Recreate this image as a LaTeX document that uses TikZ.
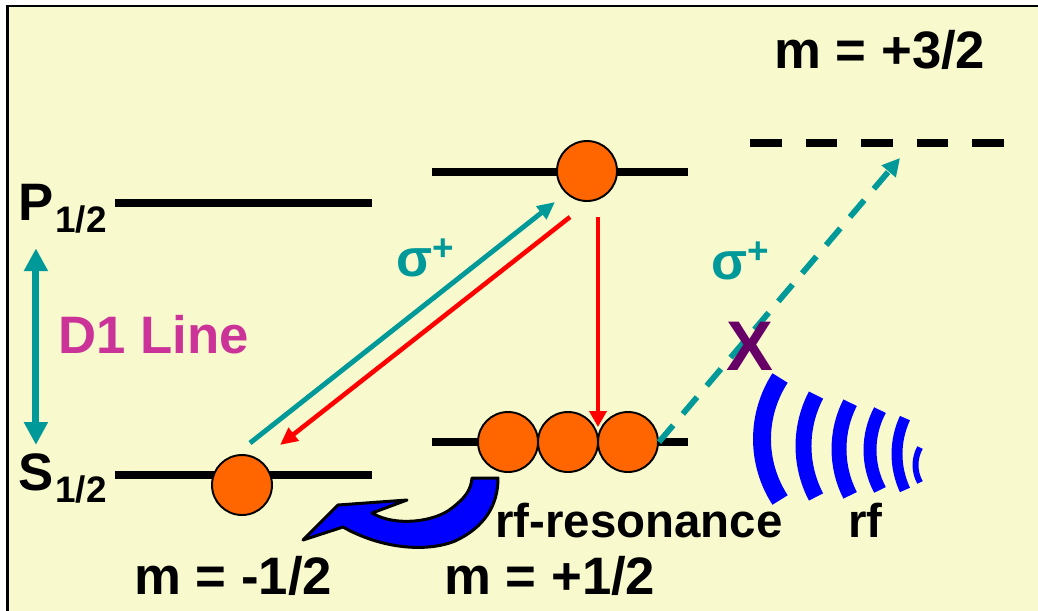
\documentclass[tikz,border=0pt]{standalone}
\usepackage{fontspec}
\setmainfont{Liberation Sans}
\usetikzlibrary{arrows.meta,calc}
\definecolor{paper}{RGB}{248,250,206}
\definecolor{pump}{RGB}{0,153,153}
\definecolor{decay}{RGB}{255,0,0}
\definecolor{atom}{RGB}{255,102,0}
\definecolor{dline}{RGB}{204,51,153}
\definecolor{blocked}{RGB}{102,0,102}
\definecolor{rfblue}{RGB}{0,0,255}

\begin{document}
\begin{tikzpicture}[x=0.02cm,y=-0.02cm,
    level/.style={line width=4.5pt},
    atomdot/.style={circle,draw,line width=1.1pt,fill=atom,minimum size=1.2cm,inner sep=0pt},
    big/.style={inner sep=0pt,anchor=base west,font=\fontsize{30}{36}\selectfont\bfseries},
    mid/.style={inner sep=0pt,anchor=base west,font=\fontsize{27}{32}\selectfont\bfseries},
    sub/.style={inner sep=0pt,anchor=base west,font=\fontsize{21}{25}\selectfont\bfseries},
    pumparrow/.style={pump,line width=2.8pt,-{Triangle[length=10pt,width=9pt]}},
    decayarrow/.style={decay,line width=2.6pt,-{Triangle[length=10pt,width=9pt]}}]

    % Frame
    \path[use as bounding box] (0,0) rectangle (1038,610);
    \clip (0,0) rectangle (1038,610);
    \draw[line width=1.5pt,fill=paper] (7.5,6) rectangle (1060,630);

    % Levels
    \draw[level] (115,203) -- (372,203);
    \draw[level] (115,475) -- (372,475);
    \draw[level] (432,172) -- (688,172);
    \draw[level] (432,442) -- (688,442);
    \draw[level,dash pattern=on 18pt off 13.6pt] (750,143) -- (1005,143);

    % Term labels
    \node[big] (Pn) at (18,220) {P};
    \node[sub] (Psub) at (55,232) {1/2};
    \node[big] (Sn) at (18,490) {S};
    \node[sub] (Ssub) at (55,502) {1/2};
    \node[big,dline] (d1) at (58,353) {D1 Line};
    \draw[pump,line width=4pt,{Triangle[length=13pt,width=13pt]}-{Triangle[length=13pt,width=13pt]},
        shorten <=0.56cm,shorten >=0.16cm] (Pn.south) -- (Sn.north);

    % rf-resonance arrow
    \draw[fill=rfblue,line width=1.7pt,line join=round]
        (472,478) -- (498,478) .. controls (498,505) and (485,527) .. (455,541)
        .. controls (425,553) and (380,548) .. (343,527) -- (303,540) -- (338,505)
        -- (407,500) -- (372,513) .. controls (395,527) and (435,522) .. (452,508)
        .. controls (465,498) and (471,490) .. (472,478) -- cycle;

    % Atoms
    \node[atomdot] (b1) at (587,171) {};
    \node[atomdot] (c1) at (508,442) {};
    \node[atomdot] (c2) at (568,442) {};
    \node[atomdot] (c3) at (628,442) {};
    \node[atomdot] (a1) at (242,485) {};

    % Transitions
    \draw[pumparrow] ([shift={(8,-42)}]a1.center) -- ([shift={(-32,31)}]b1.center);
    \draw[decayarrow] ([shift={(-17,46)}]b1.center) -- ([shift={(38,-40)}]a1.center);
    \draw[decay,line width=2.8pt,-{Triangle[length=9pt,width=9.5pt]}]
        ([shift={(11,46)}]b1.center) -- ([shift={(30,-15)}]c2.center);
    \coordinate (t3) at (900,158);
    \draw[pump,line width=3.3pt,dash pattern=on 12.5pt off 8.5pt,-{Triangle[length=10pt,width=10pt]}]
        (c3.east) -- (t3);
    \node[big,pump] (s1) at (396,276) {σ\textsuperscript{+}};
    \node[big,pump] (s2) at (711,279) {σ\textsuperscript{+}};
    \node[inner sep=0pt,anchor=base west,font=\fontsize{40}{48}\selectfont\bfseries,blocked] (xx) at (726,370) {X};

    % rf waves
    \foreach \cx/\cy/\r/\t/\w in {874/439/112/33/18, 913.5/446/110/27.6/16, 941/449/102/27/15,
        955/450/85/28/13, 982/454/85/25/11, 951.5/465/36/29/6}
        \draw[rfblue,line width=\w*0.567pt] (\cx,\cy) ++(180-\t:\r) arc[start angle=180-\t,end angle=180+\t,radius=\r];

    % m labels
    \node[big] (mlo) at (134,594) {m = -1/2};
    \node[big] (mhi) at (444,594) {m = +1/2};
    \node[big] (mtop) at (774,68) {m = +3/2};
    \node[mid] (rfres) at (495,537) {rf-resonance};
    \node[mid] (rf) at (848,537) {rf};
\end{tikzpicture}
\end{document}
